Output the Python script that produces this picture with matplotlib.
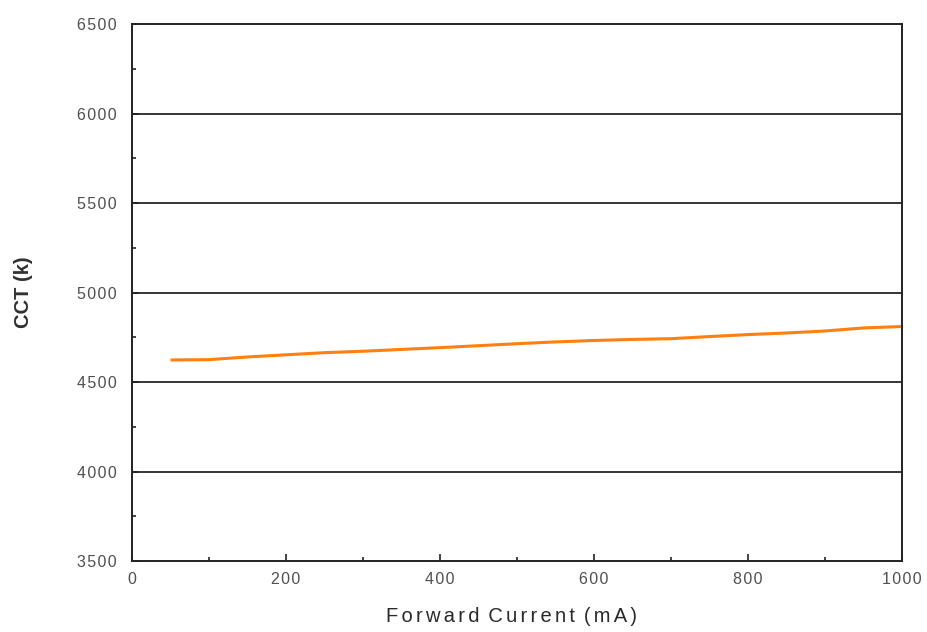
import matplotlib
matplotlib.use("Agg")
import matplotlib.pyplot as plt
from matplotlib.ticker import MultipleLocator, FuncFormatter

# values
current_ma = [50, 100, 150, 200, 250, 300, 350, 400, 450, 500,
              550, 600, 650, 700, 750, 800, 850, 900, 950, 1000]
cct_k = [4623, 4625, 4640, 4652, 4664, 4672, 4682, 4692, 4703, 4714,
         4724, 4732, 4738, 4742, 4754, 4765, 4774, 4785, 4802, 4810]

x_ticks = [0, 200, 400, 600, 800, 1000]
y_ticks = [3500, 4000, 4500, 5000, 5500, 6000, 6500]

HAIR = "\u200a"


def spaced(text, gap=HAIR):
    # fake letter spacing, the original uses wide tracking
    return gap.join(text)


plt.rcParams["font.family"] = ["Liberation Sans", "DejaVu Sans"]

fig = plt.figure(figsize=(9.27, 6.32), dpi=100)
ax = fig.add_axes([0.1424, 0.1123, 0.8306, 0.8497])

ax.plot(current_ma, cct_k, color="#FF7F0F", lw=2.2, solid_capstyle="butt")

ax.set_xlim(0, 1000)
ax.set_ylim(3500, 6500)
ax.set_xticks(x_ticks)
ax.set_yticks(y_ticks)
ax.xaxis.set_minor_locator(MultipleLocator(100))
ax.yaxis.set_minor_locator(MultipleLocator(250))
fmt = FuncFormatter(lambda v, pos: spaced(f"{v:.0f}"))
ax.xaxis.set_major_formatter(fmt)
ax.yaxis.set_major_formatter(fmt)

for y in y_ticks[1:-1]:
    ax.axhline(y, color="black", lw=1.1, zorder=1)

for s in ax.spines.values():
    s.set_linewidth(1.4)
    s.set_color("#222222")

ax.tick_params(which="both", direction="in", colors="#222222",
               labelcolor="#505050", labelsize=11.5, width=1.2)
ax.tick_params(which="major", length=5)
ax.tick_params(axis="x", which="major", pad=8)
ax.tick_params(axis="y", which="major", pad=11)
ax.tick_params(which="minor", length=3)

gap = HAIR * 2
xlab = (gap + " ").join(spaced(w, gap) for w in "Forward Current (mA)".split(" "))
ax.set_xlabel(xlab, fontsize=14.5, color="#2a2a2a")
ax.xaxis.set_label_coords(0.493, -0.085)
ax.set_ylabel("CCT (k)", fontsize=14.5, fontweight="bold", color="#303030")
ax.yaxis.set_label_coords(-0.128, 0.5)

fig.savefig("out.png", dpi=100, facecolor="white")
plt.close()
